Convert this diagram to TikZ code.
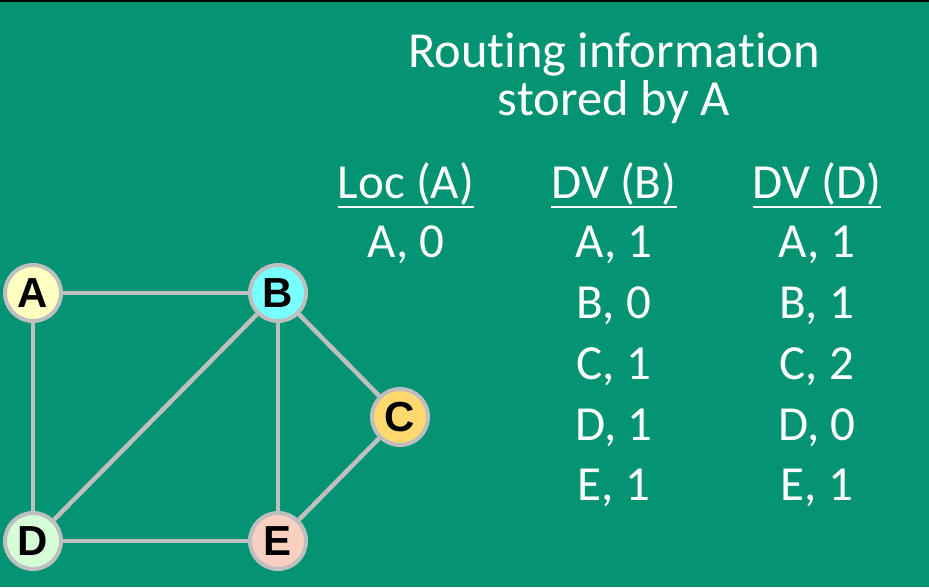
\documentclass[tikz,border=0pt]{standalone}
\usepackage{fontspec}
\setmainfont{Carlito}[Ligatures = NoCommon]
\newfontfamily\routerfont{Liberation Sans}
\usetikzlibrary{positioning}
\definecolor{slidegreen}{RGB}{4,147,115}
\definecolor{linkgray}{RGB}{191,191,191}
\definecolor{fillA}{RGB}{255,255,192}
\definecolor{fillB}{RGB}{120,255,255}
\definecolor{fillC}{RGB}{255,217,110}
\definecolor{fillD}{RGB}{215,255,215}
\definecolor{fillE}{RGB}{250,208,192}
\tikzstyle{router} = [circle, 
			draw = linkgray, 
			line width = 4pt, 
			minimum size = 56pt, 
			inner sep = 0pt, 
			font = \routerfont\bfseries\fontsize{42}{42}\selectfont]
\tikzstyle{link} = [draw, linkgray, line width = 4.5pt]
\tikzstyle{entry} = [text = white, 
			inner sep = 0pt, 
			anchor = base, 
			font = \fontsize{49}{59}\selectfont]
\tikzstyle{heading} = [entry, font = \fontsize{50.5}{60}\selectfont]
\tikzstyle{uline} = [draw, white, line width = 2.5pt]

\begin{document}
\begin{tikzpicture}[x = 1pt, y = -1pt]
	\useasboundingbox (0,0) rectangle (929,587);
	\fill [slidegreen] (0,0) rectangle (929,587);
	\draw [black, line width = 1.5pt] (0,0.75) -- (929,0.75);

	% network
	\node [router, fill = fillA] (A) at (33,293) {A};
	\node [router, fill = fillB] (B) at (278,293) {B};
	\node [router, fill = fillC] (C) at (400,417) {C};
	\node [router, fill = fillD] (D) at (33,541) {D};
	\node [router, fill = fillE] (E) at (278,541) {E};
	\path [link] (A) -- (B);
	\path [link] (A) -- (D);
	\path [link] (B) -- (D);
	\path [link] (B) -- (E);
	\path [link] (B) -- (C);
	\path [link] (C) -- (E);
	\path [link] (D) -- (E);

	% title
	\node [heading] (title1) at (614,67) {Routing information};
	\node [heading] (title2) at (614,115) {stored by A};

	% table heads
	\node [entry] (locA) at (406,198) {Loc (A)};
	\node [entry] (dvB) at (614,198) {DV (B)};
	\node [entry] (dvD) at (817,198) {DV (D)};
	\path [uline] ([yshift = -9pt]locA.base west) -- ([yshift = -9pt]locA.base east);
	\path [uline] ([yshift = -9pt]dvB.base west) -- ([yshift = -9pt]dvB.base east);
	\path [uline] ([yshift = -9pt]dvD.base west) -- ([yshift = -9pt]dvD.base east);

	% Loc (A)
	\node [entry] (locA1) at (406,257) {A, 0};

	% DV (B)
	\node [entry] (dvB1) at (614,257) {A, 1};
	\node [entry] (dvB2) at (614,318) {B, 0};
	\node [entry] (dvB3) at (614,379) {C, 1};
	\node [entry] (dvB4) at (614,440) {D, 1};
	\node [entry] (dvB5) at (614,500) {E, 1};

	% DV (D)
	\node [entry] (dvD1) at (817,257) {A, 1};
	\node [entry] (dvD2) at (817,318) {B, 1};
	\node [entry] (dvD3) at (817,379) {C, 2};
	\node [entry] (dvD4) at (817,440) {D, 0};
	\node [entry] (dvD5) at (817,500) {E, 1};
\end{tikzpicture}
\end{document}
